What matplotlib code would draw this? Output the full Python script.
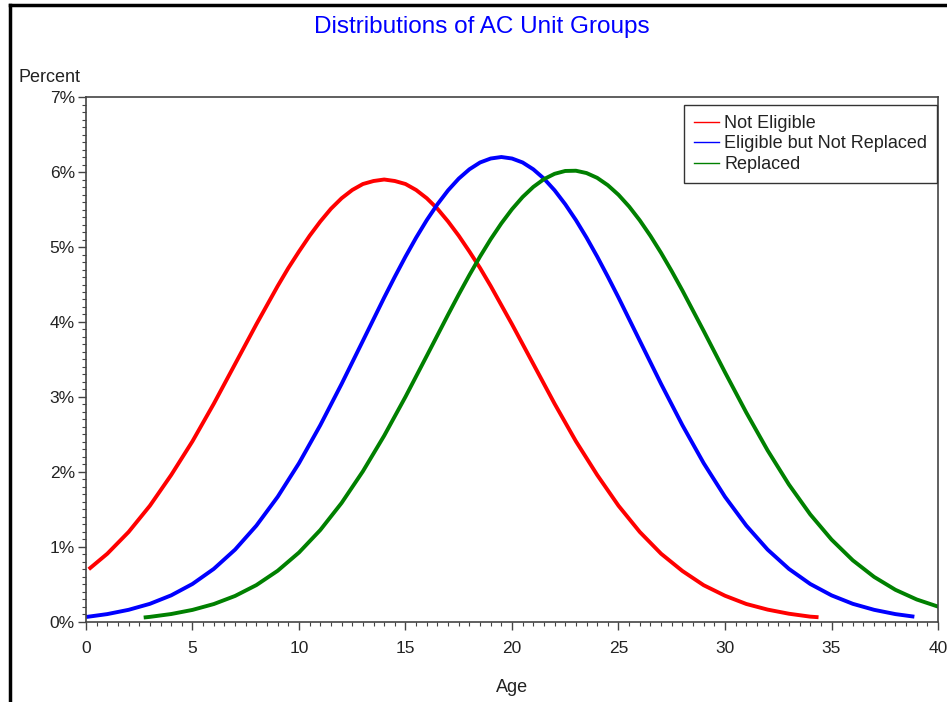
import matplotlib
matplotlib.use("Agg")
from matplotlib import pyplot as plt
from matplotlib.lines import Line2D
from matplotlib.ticker import MultipleLocator, FuncFormatter

plt.rcParams['font.family'] = ['Liberation Sans', 'DejaVu Sans']

# age (years) and percent of units
age_not_eligible = [0.2, 1, 2, 3, 4, 5, 6, 7, 8, 9, 9.5, 10, 10.5, 11, 11.5, 12, 12.5, 13,
                    13.5, 14, 14.5, 15, 15.5, 16, 16.5, 17, 17.5, 18, 18.5, 19, 20, 21, 22,
                    23, 24, 25, 26, 27, 28, 29, 30, 31, 32, 33, 34, 34.3]
pct_not_eligible = [0.72, 0.91, 1.20, 1.55, 1.96, 2.41, 2.91, 3.44, 3.97, 4.48, 4.72, 4.94,
                    5.15, 5.34, 5.51, 5.65, 5.76, 5.84, 5.88, 5.90, 5.88, 5.84, 5.76, 5.65,
                    5.51, 5.34, 5.15, 4.94, 4.72, 4.48, 3.97, 3.44, 2.91, 2.41, 1.96, 1.55,
                    1.20, 0.91, 0.68, 0.49, 0.35, 0.24, 0.165, 0.11, 0.071, 0.065]

age_not_replaced = [0.1, 1, 2, 3, 4, 5, 6, 7, 8, 9, 10, 11, 12, 13, 14, 14.5, 15, 15.5, 16,
                    16.5, 17, 17.5, 18, 18.5, 19, 19.5, 20, 20.5, 21, 21.5, 22, 22.5, 23,
                    23.5, 24, 24.5, 25, 26, 27, 28, 29, 30, 31, 32, 33, 34, 35, 36, 37, 38, 38.8]
pct_not_replaced = [0.070, 0.105, 0.162, 0.242, 0.355, 0.507, 0.708, 0.965, 1.285, 1.669,
                    2.117, 2.624, 3.174, 3.749, 4.326, 4.604, 4.872, 5.125, 5.359, 5.570,
                    5.756, 5.912, 6.036, 6.127, 6.18, 6.20, 6.18, 6.127, 6.036, 5.912,
                    5.756, 5.570, 5.359, 5.125, 4.872, 4.604, 4.326, 3.749, 3.174, 2.624,
                    2.117, 1.669, 1.285, 0.965, 0.708, 0.507, 0.355, 0.242, 0.162, 0.105, 0.074]

age_replaced = [2.8, 3, 4, 5, 6, 7, 8, 9, 10, 11, 12, 13, 14, 15, 16, 17, 17.5, 18, 18.5,
                19, 19.5, 20, 20.5, 21, 21.5, 22, 22.5, 23, 23.5, 24, 24.5, 25, 25.5, 26,
                26.5, 27, 27.5, 28, 29, 30, 31, 32, 33, 34, 35, 36, 37, 38, 39, 40]
pct_replaced = [0.062, 0.068, 0.106, 0.161, 0.239, 0.347, 0.492, 0.683, 0.926, 1.226,
                1.587, 2.009, 2.484, 3.003, 3.549, 4.098, 4.367, 4.626, 4.873, 5.104,
                5.315, 5.504, 5.667, 5.801, 5.905, 5.976, 6.014, 6.017, 5.986, 5.922,
                5.824, 5.696, 5.539, 5.355, 5.148, 4.921, 4.677, 4.42, 3.88, 3.329,
                2.792, 2.288, 1.833, 1.435, 1.099, 0.822, 0.601, 0.429, 0.300, 0.205]

labels = ['Not Eligible', 'Eligible but Not Replaced', 'Replaced']
colors = ['#ff0000', '#0000ff', '#008000']

fig = plt.figure(figsize=(9.47, 7.02), dpi=100)
ax = fig.add_axes([0.0908, 0.114, 0.8997, 0.7478])

series = [(age_not_eligible, pct_not_eligible),
          (age_not_replaced, pct_not_replaced),
          (age_replaced, pct_replaced)]
for (xs, ys), c in zip(series, colors):
    ax.plot(xs, ys, color=c, lw=2.8, solid_joinstyle='round')

ax.set_xlim(0, 40)
ax.set_ylim(0, 7)
ax.xaxis.set_major_locator(MultipleLocator(5))
ax.xaxis.set_minor_locator(MultipleLocator(0.5))
ax.yaxis.set_major_locator(MultipleLocator(1))
ax.yaxis.set_minor_locator(MultipleLocator(0.1))
ax.yaxis.set_major_formatter(FuncFormatter(lambda v, p: '%d%%' % round(v)))

for s in ax.spines.values():
    s.set_color('#444444')
    s.set_linewidth(1.2)
ax.tick_params(which='major', length=6, width=1, color='#444444', labelsize=12.5,
               labelcolor='#222222', pad=4)
ax.tick_params(which='minor', length=3, width=0.8, color='#444444')
ax.tick_params(axis='y', pad=2)
ax.tick_params(axis='x', pad=8)

ax.set_xlabel('Age', fontsize=13, color='#222222', labelpad=16)
fig.text(18 / 947, 1 - 78 / 702, 'Percent', fontsize=13, color='#222222',
         ha='left', va='center')
fig.text(482 / 947, 1 - 27 / 702, 'Distributions of AC Unit Groups', fontsize=17.5,
         color='#0000ff', ha='center', va='center')

handles = [Line2D([], [], color=c, lw=1) for c in colors]
leg = ax.legend(handles, labels, loc='upper right', bbox_to_anchor=(0.999, 0.985),
                fontsize=13, frameon=True, fancybox=False, framealpha=1,
                edgecolor='#333333', handlelength=1.4, handletextpad=0.3,
                labelspacing=0.2, borderpad=0.55, borderaxespad=0.0)
leg.get_frame().set_linewidth(1.0)
for t in leg.get_texts():
    t.set_color('#222222')

# outer frame lines of the original page
fig.add_artist(Line2D([10 / 947, 10 / 947], [0, 1 - 5 / 702], color='black', lw=2.5,
                      transform=fig.transFigure))
fig.add_artist(Line2D([10 / 947, 1], [1 - 5 / 702, 1 - 5 / 702], color='black', lw=2.5,
                      transform=fig.transFigure))

fig.savefig('out.png', dpi=100)
